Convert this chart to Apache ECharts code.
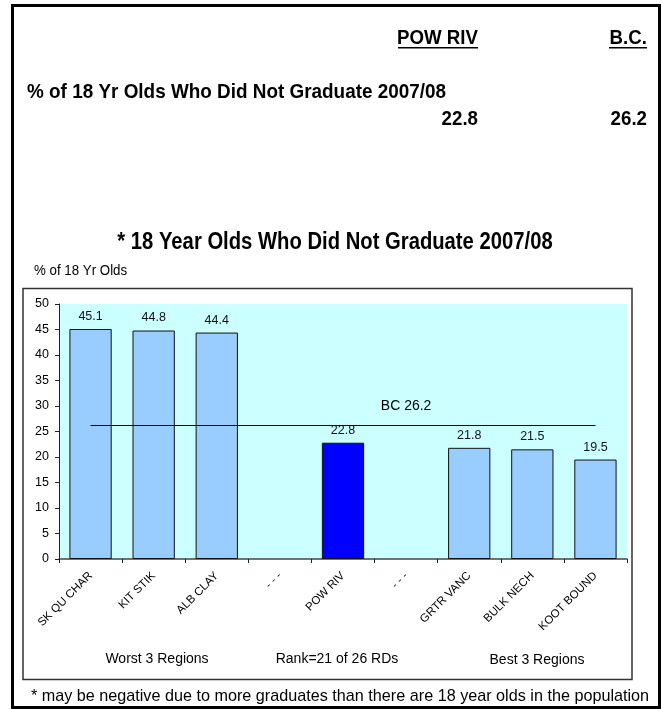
<!DOCTYPE html>
<html>
<head>
<meta charset="utf-8">
<script src="https://cdn.jsdelivr.net/npm/echarts@6/dist/echarts.min.js"></script>
<style>
html,body{margin:0;padding:0;background:#fff;}
#main{width:661px;height:709px;}
</style>
</head>
<body>
<div id="main"></div>
<script>
// ---- data ----
const categories = ['SK QU CHAR', 'KIT STIK', 'ALB CLAY', '- - -', 'POW RIV', '- - -', 'GRTR VANC', 'BULK NECH', 'KOOT BOUND'];
const values = [45.1, 44.8, 44.4, null, 22.8, null, 21.8, 21.5, 19.5];
const focusRegion = 'POW RIV';
const bcValue = 26.2;
const bcLabelIndex = 5;
const regionValue = 22.8;
const yTicks = { min: 0, max: 50, interval: 5 };
const groupLabels = ['Worst 3 Regions', 'Rank=21 of 26 RDs', 'Best 3 Regions'];
const chartTitle = '* 18 Year Olds Who Did Not Graduate 2007/08';
const yAxisName = '% of 18 Yr Olds';
const headerMetric = '% of 18 Yr Olds Who Did Not Graduate 2007/08';
const headerCols = ['POW RIV', 'B.C.'];
const headerVals = [regionValue, bcValue];
const footnote = '* may be negative due to more graduates than there are 18 year olds in the population';

// ---- chart ----
const FONT = '"Liberation Sans", Arial, sans-serif';
const chart = echarts.init(document.getElementById('main'), null, { renderer: 'canvas' });

const barData = values.map((v, i) => ({
  value: v,
  itemStyle: { color: categories[i] === focusRegion ? '#0000FF' : '#99CCFF' }
}));

function label(x, y, text, font, align, sx) {
  return {
    type: 'text', x: x, y: y, scaleX: sx || 1, scaleY: 1,
    style: { text: text, font: font, fill: '#000', align: align || 'left', verticalAlign: 'middle' }
  };
}

const HB = 'bold 21px ' + FONT;
const option = {
  animation: false,
  backgroundColor: '#fff',
  grid: { left: 59, right: 34, top: 304, bottom: 150, show: true, backgroundColor: '#CCFFFF', borderWidth: 0 },
  xAxis: {
    type: 'category',
    data: categories,
    axisLine: { lineStyle: { color: '#444', width: 1.5 } },
    axisTick: { show: true, length: 4, interval: 0, lineStyle: { color: '#222' } },
    axisLabel: { interval: 0, rotate: 45, fontSize: 11.5, fontFamily: FONT, color: '#000', margin: 15 },
    splitLine: { show: false }
  },
  yAxis: {
    type: 'value',
    min: yTicks.min, max: yTicks.max, interval: yTicks.interval,
    axisLine: { show: true, lineStyle: { color: '#222', width: 1 } },
    axisTick: { show: true, length: 4, lineStyle: { color: '#222' } },
    axisLabel: { fontSize: 12.5, fontFamily: FONT, color: '#000', margin: 10 },
    splitLine: { show: false }
  },
  series: [
    {
      type: 'bar',
      data: barData,
      barCategoryGap: '33%',
      itemStyle: { borderColor: '#111', borderWidth: 1 },
      label: { show: true, position: 'top', distance: 6, fontSize: 12.5, fontFamily: FONT, color: '#111' },
      markLine: {
        silent: true, symbol: 'none',
        lineStyle: { color: '#000', width: 1.2, type: 'solid' },
        label: { show: false },
        data: [[{ coord: [0, bcValue] }, { coord: [categories.length - 1, bcValue] }]]
      },
      markPoint: {
        silent: true, symbol: 'circle', symbolSize: 0,
        label: { show: true, position: 'top', distance: 12, formatter: 'BC ' + bcValue, fontSize: 14, fontFamily: FONT, color: '#000' },
        data: [{ coord: [bcLabelIndex, bcValue] }]
      }
    }
  ],
  graphic: [
    { type: 'rect', shape: { x: 12.5, y: 5.5, width: 647, height: 702 }, style: { fill: 'none', stroke: '#000', lineWidth: 3 } },
    { type: 'rect', shape: { x: 23, y: 288.5, width: 609, height: 391 }, style: { fill: 'none', stroke: '#333', lineWidth: 1.5 } },
    label(478, 38, headerCols[0], HB, 'right', 0.89),
    { type: 'rect', shape: { x: 398, y: 47, width: 80, height: 1.6 }, style: { fill: '#000' } },
    label(647, 38, headerCols[1], HB, 'right', 0.89),
    { type: 'rect', shape: { x: 609, y: 47, width: 38, height: 1.6 }, style: { fill: '#000' } },
    label(27, 92, headerMetric, HB, 'left', 0.9),
    label(478, 119, headerVals[0].toFixed(1), HB, 'right', 0.89),
    label(647, 119, headerVals[1].toFixed(1), HB, 'right', 0.89),
    label(335, 243, chartTitle, 'bold 23px ' + FONT, 'center', 0.88),
    label(34, 271, yAxisName, '14px ' + FONT, 'left', 0.95),
    label(157, 659, groupLabels[0], '14px ' + FONT, 'center', 1),
    label(337, 659, groupLabels[1], '14px ' + FONT, 'center', 1),
    label(537, 660, groupLabels[2], '14px ' + FONT, 'center', 1),
    label(340, 697, footnote, '16.2px ' + FONT, 'center', 1)
  ]
};
chart.setOption(option);
</script>
</body>
</html>
